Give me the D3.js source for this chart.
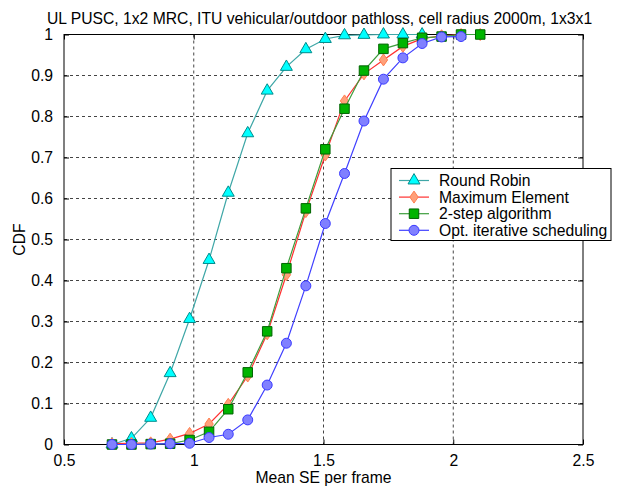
<!DOCTYPE html>
<html>
<head>
<meta charset="utf-8">
<script src="https://cdn.jsdelivr.net/npm/d3@7"></script>
<style>
  body { margin: 0; background: #fff; }
  svg text { font-family: "Liberation Sans", Arial, sans-serif; fill: #000; }
</style>
</head>
<body>
<div id="chart"></div>
<script>
// mean SE per frame (x positions shared by all curves)
const seValues = [0.685, 0.76, 0.834, 0.909, 0.984, 1.059, 1.133, 1.208, 1.283, 1.357,
    1.432, 1.507, 1.581, 1.656, 1.731, 1.806, 1.88, 1.955, 2.03, 2.104]

const roundRobin = [0, 0.015, 0.065, 0.174, 0.306, 0.45, 0.614, 0.759, 0.863, 0.921,
    0.964, 0.989, 0.998, 0.999, 1, 1, 1]
const maxElement = [0.002, 0.003, 0.004, 0.013, 0.027, 0.05, 0.098, 0.167, 0.27, 0.414,
    0.568, 0.706, 0.838, 0.904, 0.938, 0.971, 0.99, 0.997, 1, 1]
const twoStep = [0, 0, 0.001, 0.002, 0.011, 0.031, 0.086, 0.176, 0.276, 0.43,
    0.576, 0.72, 0.819, 0.912, 0.965, 0.979, 0.992, 0.995, 1, 1]
const optIterative = [0, 0, 0.001, 0.002, 0.003, 0.017, 0.025, 0.06, 0.145, 0.247,
    0.387, 0.539, 0.661, 0.789, 0.891, 0.943, 0.978, 0.994, 0.995]

const seriesNames = ["Round Robin", "Maximum Element", "2-step algorithm", "Opt. iterative scheduling"]
const xTicks = [0.5, 1, 1.5, 2, 2.5]
const yTicks = [0, 0.1, 0.2, 0.3, 0.4, 0.5, 0.6, 0.7, 0.8, 0.9, 1]

const W = 620, H = 486
const marg = { left: 64, right: 37, top: 34.5, bottom: 41.5 }
const w = W - marg.left - marg.right
const h = H - marg.top - marg.bottom
const fs = '15.7px'

const series = [
    { name: seriesNames[0], vals: roundRobin, line: "#3fa7a7", fill: "#00ffff", stroke: "#008b8b", shape: "triangle" },
    { name: seriesNames[1], vals: maxElement, line: "#ff3030", fill: "#ffa07a", stroke: "#ff7f50", shape: "diamond" },
    { name: seriesNames[2], vals: twoStep, line: "#3d9d3d", fill: "#00b400", stroke: "#006400", shape: "square" },
    { name: seriesNames[3], vals: optIterative, line: "#4040ff", fill: "#8080ff", stroke: "#3a3aff", shape: "circle" }
]

const xScale = d3.scaleLinear().domain([0.5, 2.5]).range([0, w])
const yScale = d3.scaleLinear().domain([0, 1]).range([h, 0])

const svg = d3.select('#chart')
    .append('svg')
    .attr('width', W)
    .attr('height', H)

const g = svg.append('g')
    .attr('transform', 'translate(' + marg.left + ',' + marg.top + ')')

// dashed grid
g.append('g')
    .selectAll('line')
    .data(xTicks.slice(1, -1))
    .enter()
    .append('line')
    .attr('x1', d => xScale(d)).attr('x2', d => xScale(d))
    .attr('y1', 0).attr('y2', h)
    .attr('stroke', '#444').attr('stroke-dasharray', '3,3')

g.append('g')
    .selectAll('line')
    .data(yTicks.slice(1, -1))
    .enter()
    .append('line')
    .attr('y1', d => yScale(d)).attr('y2', d => yScale(d))
    .attr('x1', 0).attr('x2', w)
    .attr('stroke', '#444').attr('stroke-dasharray', '3,3')

// axes with inward ticks
const xAxis = d3.axisBottom(xScale).tickValues(xTicks).tickSizeInner(-5).tickSizeOuter(0).tickPadding(10)
    .tickFormat(d => d)
const yAxis = d3.axisLeft(yScale).tickValues(yTicks).tickSizeInner(-5).tickSizeOuter(0).tickPadding(11)
    .tickFormat(d => d)

g.append('g').attr('transform', 'translate(0,' + h + ')').call(xAxis)
g.append('g').call(yAxis)
g.append('g').call(d3.axisTop(xScale).tickValues(xTicks).tickSizeInner(-5).tickSizeOuter(0).tickFormat(''))
g.append('g').attr('transform', 'translate(' + w + ',0)')
    .call(d3.axisRight(yScale).tickValues(yTicks).tickSizeInner(-5).tickSizeOuter(0).tickFormat(''))

svg.selectAll('.domain').remove()
svg.selectAll('.tick line').attr('stroke', '#000')
svg.selectAll('.tick text').style('font-size', fs)

g.append('rect')
    .attr('width', w).attr('height', h)
    .attr('fill', 'none').attr('stroke', '#000')

const markerPath = (shape) => {
    if (shape === 'triangle') return d3.symbol().type(d3.symbolTriangle).size(62)()
    if (shape === 'square') return d3.symbol().type(d3.symbolSquare).size(90)()
    if (shape === 'diamond') return 'M0,-6L4.2,0L0,6L-4.2,0Z'
    return d3.symbol().type(d3.symbolCircle).size(78)()
}

const line = d3.line()
    .x((d, i) => xScale(seValues[i]))
    .y(d => yScale(d))

series.forEach(s => {
    g.append('path')
        .datum(s.vals)
        .attr('d', line)
        .attr('fill', 'none')
        .attr('stroke', s.line)
        .attr('stroke-width', 1.2)

    g.append('g')
        .selectAll('path')
        .data(s.vals)
        .enter()
        .append('path')
        .attr('d', markerPath(s.shape))
        .attr('transform', (d, i) => 'translate(' + xScale(seValues[i]) + ',' + yScale(d) + ')')
        .attr('fill', s.fill)
        .attr('stroke', s.stroke)
        .attr('stroke-width', 1)
})

// title and labels
svg.append('text')
    .attr('x', marg.left + w / 2 - 4)
    .attr('y', 24)
    .attr('text-anchor', 'middle')
    .style('font-size', fs)
    .text('UL PUSC, 1x2 MRC, ITU vehicular/outdoor pathloss, cell radius 2000m, 1x3x1')

svg.append('text')
    .attr('x', marg.left + w / 2)
    .attr('y', 483)
    .attr('text-anchor', 'middle')
    .style('font-size', fs)
    .text('Mean SE per frame')

svg.append('text')
    .attr('transform', 'translate(25,' + (marg.top + h / 2) + ') rotate(-90)')
    .attr('text-anchor', 'middle')
    .style('font-size', fs)
    .text('CDF')

// legend
const legend = svg.append('g')
    .attr('id', 'legend')
    .attr('transform', 'translate(391,168.5)')

legend.append('rect')
    .attr('width', 220).attr('height', 72)
    .attr('fill', '#fff').attr('stroke', '#000')

series.forEach((s, i) => {
    const row = legend.append('g').attr('transform', 'translate(0,' + (12 + i * 16.6) + ')')
    row.append('line')
        .attr('x1', 8).attr('x2', 38)
        .attr('stroke', s.line).attr('stroke-width', 1.2)
    row.append('path')
        .attr('d', markerPath(s.shape))
        .attr('transform', 'translate(23,0)')
        .attr('fill', s.fill).attr('stroke', s.stroke)
    row.append('text')
        .attr('x', 48).attr('y', 5.5)
        .style('font-size', fs)
        .text(s.name)
})
</script>
</body>
</html>
